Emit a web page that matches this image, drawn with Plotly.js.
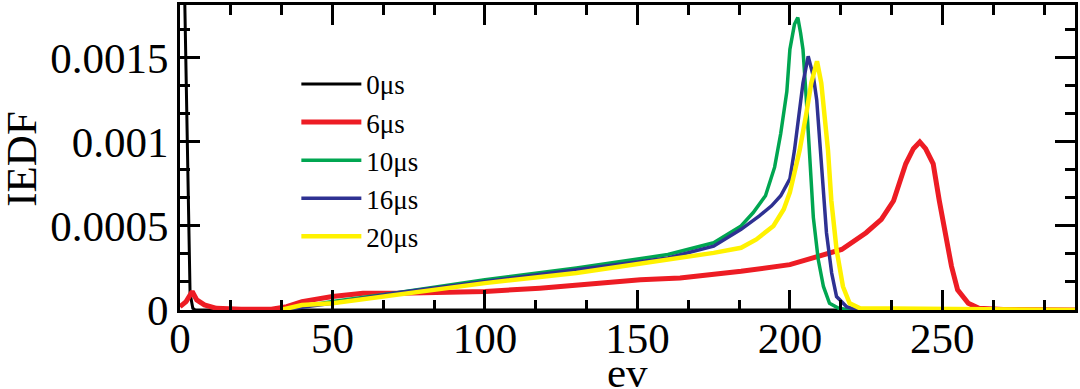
<!DOCTYPE html>
<html>
<head>
<meta charset="utf-8">
<script src="https://cdn.plot.ly/plotly-3.0.1.min.js"></script>
<style>
  html, body { margin: 0; padding: 0; background: #fff; }
  #chartIEDF { width: 1080px; height: 389px; }
</style>
</head>
<body>
<div id="chartIEDF"></div>
<script>
// Values (energy in eV, IEDF)
const ev0 = [0, 1.6, 3.3, 4.2, 5, 294];
const iedf0 = [0.0034, 0.00182, 0.0001, 0.00001, 0, 0];

const ev6 = [0, 2, 4, 5.5, 8, 12, 20, 30, 35, 40, 50, 60, 72, 100, 118, 131, 151, 164, 184, 200, 210, 217, 225, 230, 234, 238, 240.5, 242.6, 244.5, 247, 249, 251, 253, 255, 258.5, 262, 270, 294];
const iedf6 = [0.00002, 0.00005, 0.00011, 0.00006, 0.00003, 0.00001, 0.000005, 0.000005, 0.00002, 0.00005, 0.00008, 0.0001, 0.0001, 0.00011, 0.00013, 0.00015, 0.00018, 0.00019, 0.00023, 0.00027, 0.00032, 0.00036, 0.00046, 0.00054, 0.00065, 0.00087, 0.00096, 0.001, 0.00096, 0.00087, 0.00065, 0.00046, 0.00026, 0.00012, 0.00004, 0.00001, 0.000003, 0];

const ev10 = [33, 50, 70, 100, 130, 160, 175, 184, 188, 192, 195, 197, 199, 200, 201.5, 202.6, 203.5, 204.3, 205.4, 206.6, 207.7, 209.3, 211, 213, 216, 220, 294];
const iedf10 = [0, 0.00005, 0.0001, 0.00018, 0.00025, 0.00033, 0.0004, 0.0005, 0.00058, 0.00068, 0.00085, 0.00105, 0.0013, 0.00155, 0.0017, 0.00174, 0.00165, 0.00155, 0.00125, 0.00085, 0.00055, 0.0003, 0.00014, 0.00004, 0.00001, 0, 0];

const ev16 = [33, 50, 70, 100, 130, 160, 175, 184, 190, 194, 197, 200, 201.5, 203.2, 204.3, 206, 207.7, 208.8, 209.9, 211, 212, 213.7, 215.3, 218.6, 222, 294];
const iedf16 = [0, 0.00004, 0.0001, 0.00017, 0.00024, 0.00031, 0.00038, 0.00048, 0.00056, 0.00062, 0.00068, 0.00078, 0.00095, 0.00119, 0.00135, 0.00151, 0.00139, 0.00125, 0.001, 0.00075, 0.00046, 0.00022, 0.00008, 0.00002, 0, 0];

const ev20 = [33, 40, 50, 72, 100, 130, 157, 175, 184, 189, 194.6, 198, 200, 201.5, 203.2, 205.4, 207, 208.9, 210.3, 211.4, 212.5, 213.6, 215.3, 217.4, 219.6, 223, 294];
const iedf20 = [0, 0.00003, 0.00004, 0.00009, 0.00016, 0.00022, 0.00029, 0.00034, 0.00037, 0.00042, 0.0005, 0.0006, 0.0007, 0.00082, 0.00095, 0.00117, 0.00135, 0.00148, 0.00135, 0.00115, 0.00095, 0.00065, 0.00036, 0.00014, 0.00004, 0.00001, 0];

const seriesNames = ['0μs', '6μs', '10μs', '16μs', '20μs'];
const seriesColors = ['#000000', '#ed1c24', '#00a651', '#2e3192', '#fff200'];
const seriesWidths = [3, 5, 3.5, 3.5, 4.5];

const yTickVals = [0, 0.0005, 0.001, 0.0015];
const yTickText = ['0', '0.0005', '0.001', '0.0015'];

const xTitle = 'ev';
const yTitle = 'IEDF';

const serif = 'Liberation Serif, Times New Roman, serif';

const xs = [ev0, ev6, ev10, ev16, ev20];
const ys = [iedf0, iedf6, iedf10, iedf16, iedf20];

const traces = xs.map((x, i) => ({
    x: x,
    y: ys[i],
    mode: 'lines',
    type: 'scatter',
    name: seriesNames[i],
    legendgroup: 'g' + i,
    line: { color: seriesColors[i], width: seriesWidths[i] }
}));

const axisCommon = {
    showline: true,
    linewidth: 3,
    linecolor: '#000',
    mirror: 'ticks',
    ticks: 'inside',
    ticklen: 20,
    tickwidth: 3,
    tickcolor: '#000',
    showgrid: false,
    zeroline: false,
    tickfont: { family: serif, size: 43, color: '#000' }
};

const titleFont = { family: serif, size: 43, color: '#000' };

const layout = {
    width: 1080,
    height: 389,
    margin: { l: 180, r: 5, t: 5, b: 79 },
    paper_bgcolor: '#fff',
    plot_bgcolor: '#fff',
    showlegend: true,
    legend: {
        x: 0.13,
        y: 0.82,
        xanchor: 'left',
        yanchor: 'top',
        bgcolor: 'rgba(0,0,0,0)',
        font: { family: serif, size: 27, color: '#000' },
        itemwidth: 60,
        tracegroupgap: 0
    },
    xaxis: Object.assign({}, axisCommon, {
        range: [0, 293.5],
        tick0: 0,
        dtick: 50,
        ticklabelstandoff: -12,
        minor: { tick0: 0, dtick: 50 / 3, ticks: 'inside', ticklen: 10, tickwidth: 3, tickcolor: '#000', showgrid: false }
    }),
    yaxis: Object.assign({}, axisCommon, {
        range: [0, 0.001815],
        tickmode: 'array',
        tickvals: yTickVals,
        ticktext: yTickText,
        minor: { tickmode: 'linear', tick0: 0, dtick: 0.0005 / 3, ticks: 'inside', ticklen: 10, tickwidth: 3, tickcolor: '#000', showgrid: false }
    }),
    // axis titles placed as annotations so they sit where the reference has them
    annotations: [
        {
            text: xTitle, xref: 'paper', yref: 'paper',
            x: 0.5, y: -0.29, xanchor: 'center', yanchor: 'bottom',
            showarrow: false, font: titleFont
        },
        {
            text: yTitle, xref: 'paper', yref: 'paper',
            x: -0.178, y: 0.495, xanchor: 'center', yanchor: 'middle',
            textangle: -90, showarrow: false, font: titleFont
        }
    ]
};

Plotly.newPlot('chartIEDF', traces, layout, { displayModeBar: false, staticPlot: true });
</script>
</body>
</html>
